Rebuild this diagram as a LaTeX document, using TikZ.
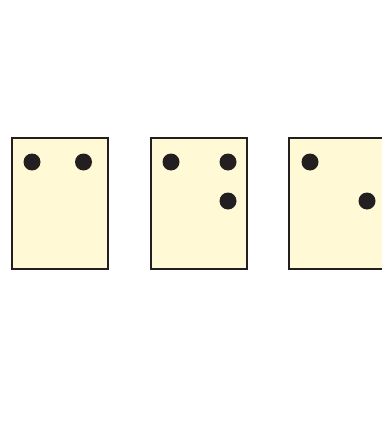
\documentclass[tikz,border=0pt]{standalone}
\definecolor{cardfill}{HTML}{FFF9D6}
\definecolor{dotcol}{HTML}{231F20}
\begin{document}
\begin{tikzpicture}[x=1pt,y=-1pt,
  card/.style={draw=dotcol,fill=cardfill,line width=1.4pt,minimum width=96pt,minimum height=131pt,inner sep=0pt,outer sep=0pt},
  dot/.style={circle,fill=dotcol,minimum size=17pt,inner sep=0pt}]
\clip (0,0) rectangle (382,428);
\useasboundingbox (0,0) rectangle (382,428);
\node[card] (c1) at (60,203.5) {};
\node[card] (c2) at (199,203.5) {};
\node[card] (c3) at (337,203.5) {};
\node[dot] (d11) at (32,162) {};
\node[dot] (d12) at (83.5,162) {};
\node[dot] (d21) at (171,162) {};
\node[dot] (d22) at (228,162) {};
\node[dot] (d23) at (228,201) {};
\node[dot] (d31) at (310,162) {};
\node[dot] (d32) at (367,201) {};
\end{tikzpicture}
\end{document}
